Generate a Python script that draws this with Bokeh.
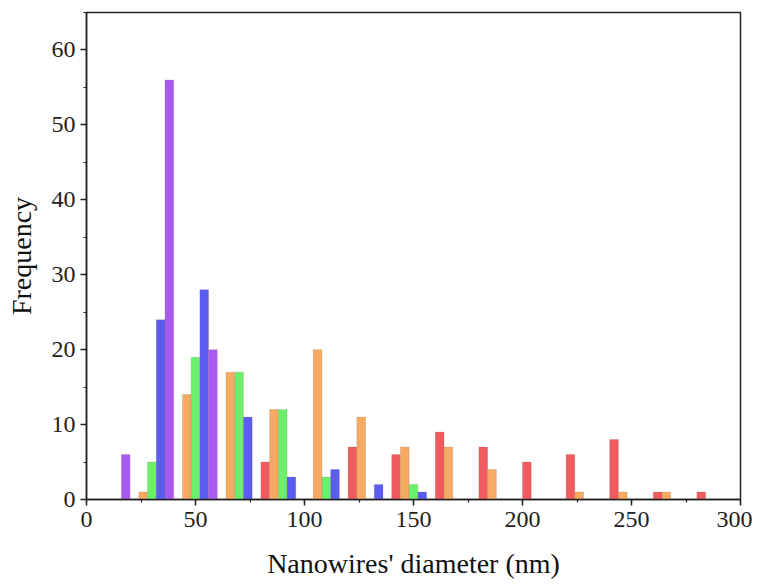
import numpy as np
from bokeh.plotting import figure
from bokeh.models import Range1d, FixedTicker
from bokeh.embed import file_html
from bokeh.resources import INLINE

# Histogram bins (nm), bin width 20
bin_starts = [0, 20, 40, 60, 80, 100, 120, 140, 160, 180, 200, 220, 240, 260, 280]

red_counts    = [0, 0, 0, 0, 5, 0, 7, 6, 9, 7, 5, 6, 8, 1, 1]
orange_counts = [0, 1, 14, 17, 12, 20, 11, 7, 7, 4, 0, 1, 1, 1, 0]
green_counts  = [0, 5, 19, 17, 12, 3, 0, 2, 0, 0, 0, 0, 0, 0, 0]
blue_counts   = [0, 24, 28, 11, 3, 4, 2, 1, 0, 0, 0, 0, 0, 0, 0]
purple_counts = [6, 56, 20, 0, 0, 0, 0, 0, 0, 0, 0, 0, 0, 0, 0]

x_ticks = [0, 50, 100, 150, 200, 250, 300]
y_ticks = [0, 10, 20, 30, 40, 50, 60]

series = [
    (red_counts, "#ef5b5e", 2),
    (orange_counts, "#f6aa62", 6),
    (green_counts, "#6bf06b", 10),
    (blue_counts, "#5a5cf2", 14),
    (purple_counts, "#a95af2", 18),
]

p = figure(frame_width=654, frame_height=487, output_backend="svg",
           toolbar_location=None,
           x_range=Range1d(0, 300), y_range=Range1d(0, 65),
           min_border_left=86, min_border_right=12, min_border_top=12,
           min_border_bottom=70)

bar_w = 4
for counts, color, off in series:
    xs = [b + off for b, c in zip(bin_starts, counts) if c > 0]
    ts = [c for c in counts if c > 0]
    p.vbar(x=xs, top=ts, width=bar_w, bottom=0, fill_color=color,
           line_color="#8a6a5a", line_alpha=0.35, line_width=0.6)

p.grid.visible = False
p.outline_line_color = "#222222"
p.outline_line_width = 1.5
p.background_fill_color = "white"
p.border_fill_color = "white"

for ax in (p.xaxis[0], p.yaxis[0]):
    ax.axis_line_width = 1.5
    ax.axis_line_color = "#222222"
    ax.major_tick_line_color = "#222222"
    ax.minor_tick_line_color = "#222222"
    ax.major_tick_line_width = 1.5
    ax.minor_tick_line_width = 1.2
    ax.major_tick_in = 0
    ax.major_tick_out = 6
    ax.minor_tick_in = 0
    ax.minor_tick_out = 3
    ax.major_label_text_font = "Liberation Serif"
    ax.major_label_text_font_size = "24px"
    ax.major_label_text_color = "#222222"
    ax.axis_label_text_font = "Liberation Serif"
    ax.axis_label_text_font_size = "28px"
    ax.axis_label_text_font_style = "normal"
    ax.axis_label_text_color = "#111111"

p.xaxis.ticker = FixedTicker(ticks=x_ticks, minor_ticks=list(range(0, 301, 25)))
p.yaxis.ticker = FixedTicker(ticks=y_ticks, minor_ticks=list(range(0, 66, 5)))
p.xaxis.axis_label = "Nanowires' diameter (nm)"
p.yaxis.axis_label = "Frequency"
p.xaxis.major_label_standoff = 6
p.xaxis.axis_label_standoff = 18
p.yaxis.major_label_standoff = 5
p.yaxis.axis_label_standoff = 12

open("out.html", "w").write(file_html(p, INLINE))
